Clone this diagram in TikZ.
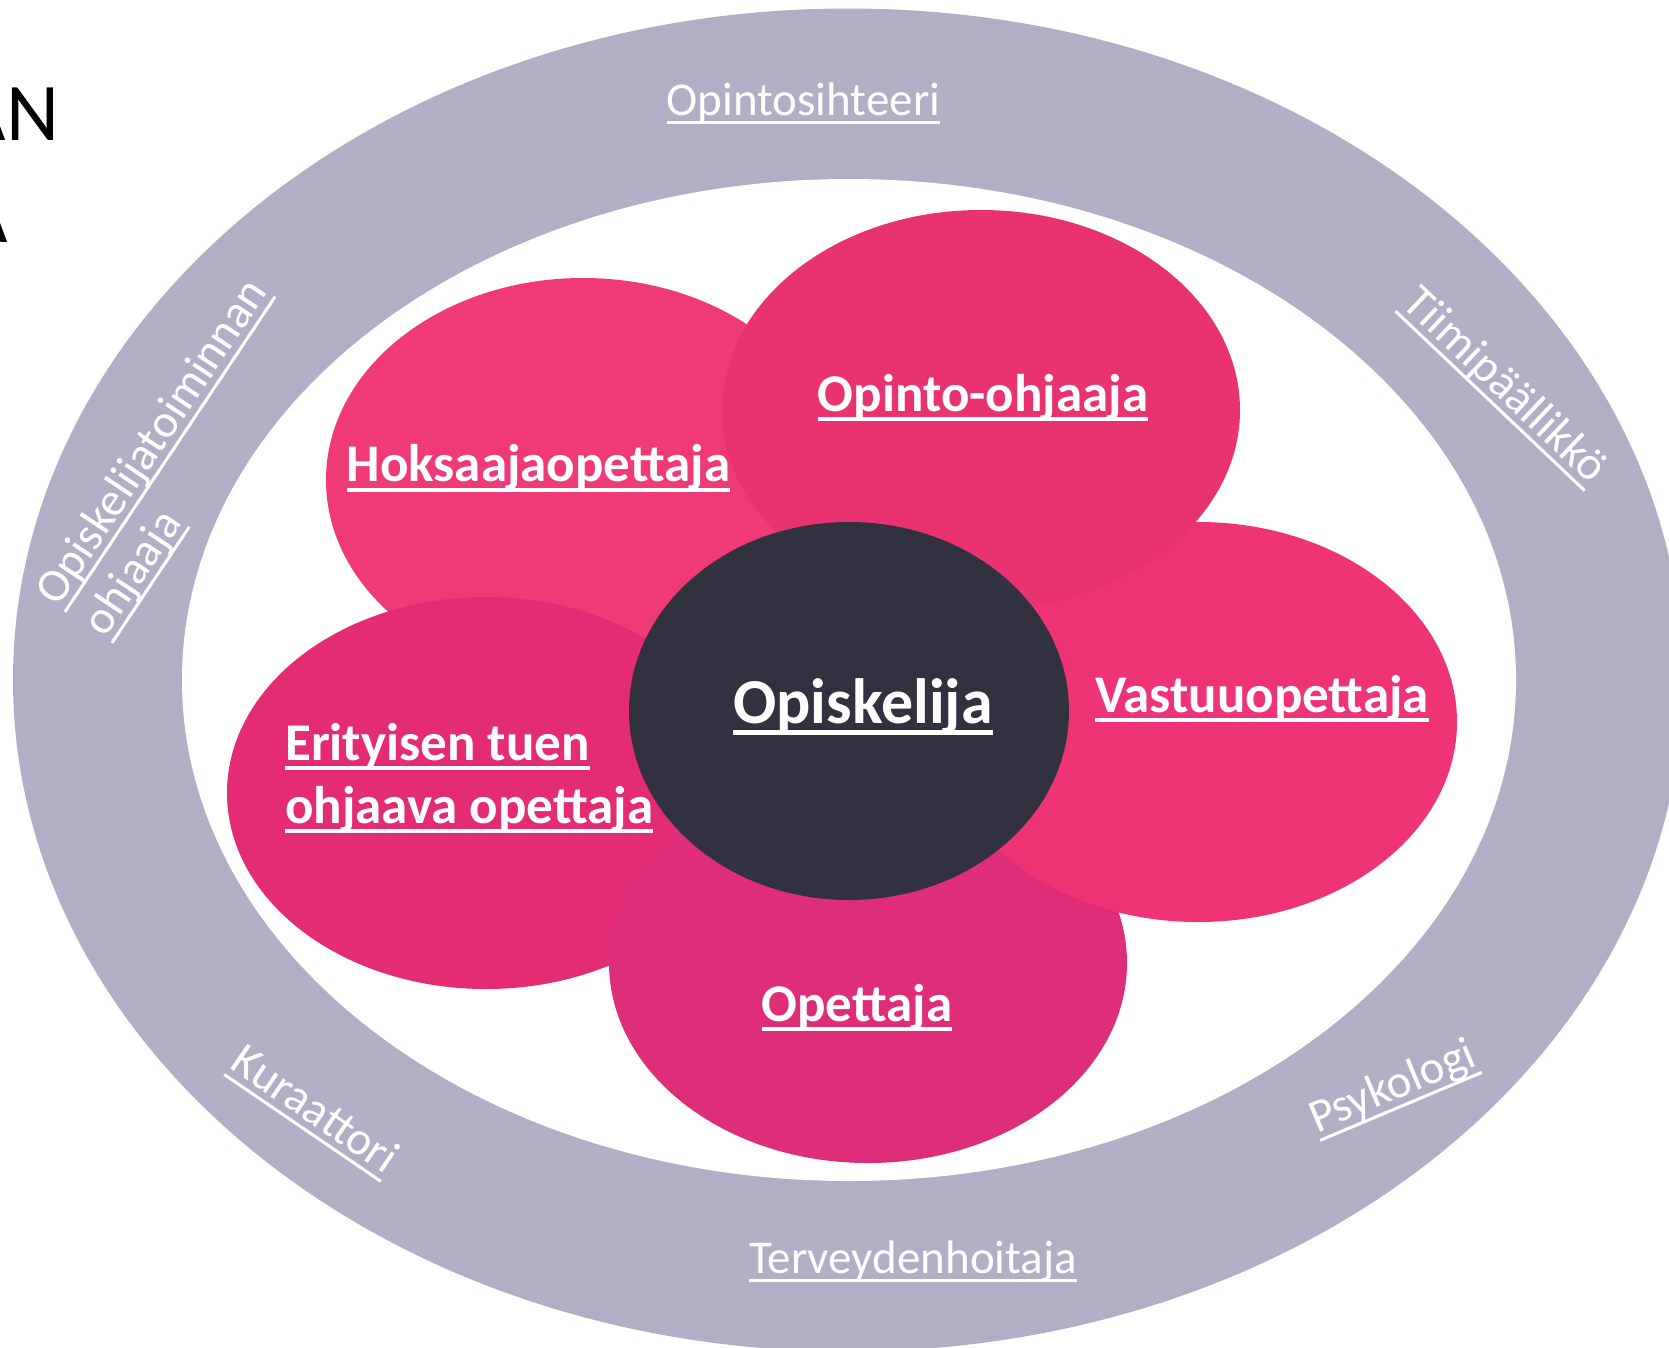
\documentclass[tikz,border=0pt]{standalone}
\usepackage{fontspec}
\setmainfont{Carlito}
\definecolor{ringc}{HTML}{B3AEC6}
\definecolor{phoks}{HTML}{F03A77}
\definecolor{popin}{HTML}{E83370}
\definecolor{pvast}{HTML}{EE3474}
\definecolor{perit}{HTML}{E32C74}
\definecolor{popet}{HTML}{DE2D79}
\definecolor{pcent}{HTML}{32313F}
\newsavebox\ulbox
\newcommand\ulreg[1]{\sbox\ulbox{#1}\rlap{\rule[-0.2em]{\wd\ulbox}{0.065em}}\usebox\ulbox}
\newcommand\ulbold[1]{\sbox\ulbox{#1}\rlap{\rule[-0.19em]{\wd\ulbox}{0.075em}}\usebox\ulbox}
\tikzset{
  outerlab/.style={text=white, inner sep=0pt, font=\fontsize{47}{57}\selectfont},
  petallab/.style={text=white, inner sep=0pt, font=\fontsize{53}{63}\selectfont\bfseries},
  centerlab/.style={text=white, inner sep=0pt, font=\fontsize{64}{77}\selectfont\bfseries},
  titlelab/.style={text=black, inner sep=0pt, font=\fontsize{82}{100}\selectfont},
}
\begin{document}
\begin{tikzpicture}[x=1pt,y=-1pt]
\useasboundingbox (0,0) rectangle (1669,1347);
\clip (0,0) rectangle (1669,1347);
\fill[white] (0,0) rectangle (1669,1347);
% title fragments
\node[titlelab, anchor=base east] (t1) at (59.5,140) {AN};
\node[titlelab, anchor=base east] (t2) at (8.5,242) {A};
% ring
\fill[ringc] (848,680) ellipse [x radius=835pt, y radius=671.5pt];
\fill[white] (849,680) ellipse [x radius=667pt, y radius=501pt];
% petals
\fill[phoks] (583,480) ellipse [x radius=257pt, y radius=202pt];
\fill[perit] (486,793) ellipse [x radius=259pt, y radius=196pt];
\fill[popet] (868,963) ellipse [x radius=259pt, y radius=200pt];
\fill[pvast] (1198,722) ellipse [x radius=259pt, y radius=200pt];
\fill[popin] (981,410) ellipse [x radius=259pt, y radius=200pt];
\fill[pcent] (849,711) ellipse [x radius=220pt, y radius=189pt];
% petal labels
\node[petallab, anchor=base] (hoks) at (538.5,481.7) {\ulbold{Hoksaajaopettaja}};
\node[petallab, anchor=base] (opoh) at (983,411) {\ulbold{Opinto-ohjaaja}};
\node[petallab, anchor=base] (vast) at (1262,712) {\ulbold{Vastuuopettaja}};
\node[petallab, anchor=base] (opet) at (857,1021) {\ulbold{Opettaja}};
\node[petallab, anchor=base west] (erit1) at (285,760) {\ulbold{Erityisen tuen}};
\node[petallab, anchor=base west] (erit2) at (285,823) {\ulbold{ohjaava opettaja}};
\node[centerlab, anchor=base] (opis) at (863,723) {\ulbold{Opiskelija}};
% outer labels
\node[outerlab, anchor=base] (sihteeri) at (803.5,115) {\ulreg{Opintosihteeri}};
\node[outerlab, anchor=base] (terv) at (913,1273) {\ulreg{Terveydenhoitaja}};
\node[outerlab, anchor=base, rotate=-43.5] (tiimi) at (1495.5,395.2) {\ulreg{Tiimipäällikkö}};
\node[outerlab, anchor=base, rotate=-34.3] (kura) at (307,1121.4) {\ulreg{Kuraattori}};
\node[outerlab, anchor=base, rotate=22.8] (psyk) at (1397.9,1099.1) {\ulreg{Psykologi}};
\node[outerlab, anchor=base west, rotate=56.3] (optoim1) at (58.3,607.6) {\ulreg{Opiskelijatoiminnan}};
\node[outerlab, anchor=base west, rotate=56.3] (optoim2) at (105.3,638.6) {\ulreg{ohjaaja}};
\end{tikzpicture}
\end{document}
